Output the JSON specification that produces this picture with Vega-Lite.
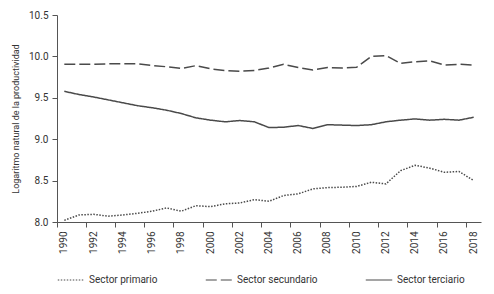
{
  "$schema": "https://vega.github.io/schema/vega-lite/v6.json",
  "width": 424,
  "height": 207,
  "autosize": {"type": "none"},
  "padding": {"left": 57, "top": 15, "right": 13, "bottom": 72},
  "background": "white",
  "config": {
    "font": "Roboto",
    "view": {"stroke": null},
    "axis": {
      "domainColor": "#555555",
      "tickColor": "#555555",
      "labelColor": "#333333",
      "titleColor": "#333333",
      "labelFontSize": 10,
      "titleFontSize": 9,
      "titleFontWeight": "normal",
      "grid": false,
      "tickSize": 5
    },
    "legend": {"labelFontSize": 10, "labelColor": "#333333"}
  },
  "data": {
    "values": [
      {"year": 1990, "sector": "Sector primario", "v": 8.02},
      {"year": 1991, "sector": "Sector primario", "v": 8.085},
      {"year": 1992, "sector": "Sector primario", "v": 8.093},
      {"year": 1993, "sector": "Sector primario", "v": 8.07},
      {"year": 1994, "sector": "Sector primario", "v": 8.085},
      {"year": 1995, "sector": "Sector primario", "v": 8.105},
      {"year": 1996, "sector": "Sector primario", "v": 8.13},
      {"year": 1997, "sector": "Sector primario", "v": 8.17},
      {"year": 1998, "sector": "Sector primario", "v": 8.13},
      {"year": 1999, "sector": "Sector primario", "v": 8.197},
      {"year": 2000, "sector": "Sector primario", "v": 8.185},
      {"year": 2001, "sector": "Sector primario", "v": 8.22},
      {"year": 2002, "sector": "Sector primario", "v": 8.23},
      {"year": 2003, "sector": "Sector primario", "v": 8.27},
      {"year": 2004, "sector": "Sector primario", "v": 8.25},
      {"year": 2005, "sector": "Sector primario", "v": 8.32},
      {"year": 2006, "sector": "Sector primario", "v": 8.34},
      {"year": 2007, "sector": "Sector primario", "v": 8.4},
      {"year": 2008, "sector": "Sector primario", "v": 8.415},
      {"year": 2009, "sector": "Sector primario", "v": 8.42},
      {"year": 2010, "sector": "Sector primario", "v": 8.43},
      {"year": 2011, "sector": "Sector primario", "v": 8.48},
      {"year": 2012, "sector": "Sector primario", "v": 8.46},
      {"year": 2013, "sector": "Sector primario", "v": 8.62},
      {"year": 2014, "sector": "Sector primario", "v": 8.685},
      {"year": 2015, "sector": "Sector primario", "v": 8.65},
      {"year": 2016, "sector": "Sector primario", "v": 8.6},
      {"year": 2017, "sector": "Sector primario", "v": 8.61},
      {"year": 2018, "sector": "Sector primario", "v": 8.5},
      {"year": 1990, "sector": "Sector secundario", "v": 9.905},
      {"year": 1991, "sector": "Sector secundario", "v": 9.905},
      {"year": 1992, "sector": "Sector secundario", "v": 9.905},
      {"year": 1993, "sector": "Sector secundario", "v": 9.91},
      {"year": 1994, "sector": "Sector secundario", "v": 9.91},
      {"year": 1995, "sector": "Sector secundario", "v": 9.91},
      {"year": 1996, "sector": "Sector secundario", "v": 9.89},
      {"year": 1997, "sector": "Sector secundario", "v": 9.875},
      {"year": 1998, "sector": "Sector secundario", "v": 9.855},
      {"year": 1999, "sector": "Sector secundario", "v": 9.888},
      {"year": 2000, "sector": "Sector secundario", "v": 9.85},
      {"year": 2001, "sector": "Sector secundario", "v": 9.83},
      {"year": 2002, "sector": "Sector secundario", "v": 9.82},
      {"year": 2003, "sector": "Sector secundario", "v": 9.83},
      {"year": 2004, "sector": "Sector secundario", "v": 9.86},
      {"year": 2005, "sector": "Sector secundario", "v": 9.905},
      {"year": 2006, "sector": "Sector secundario", "v": 9.865},
      {"year": 2007, "sector": "Sector secundario", "v": 9.835},
      {"year": 2008, "sector": "Sector secundario", "v": 9.865},
      {"year": 2009, "sector": "Sector secundario", "v": 9.86},
      {"year": 2010, "sector": "Sector secundario", "v": 9.87},
      {"year": 2011, "sector": "Sector secundario", "v": 10.0},
      {"year": 2012, "sector": "Sector secundario", "v": 10.01},
      {"year": 2013, "sector": "Sector secundario", "v": 9.915},
      {"year": 2014, "sector": "Sector secundario", "v": 9.935},
      {"year": 2015, "sector": "Sector secundario", "v": 9.945},
      {"year": 2016, "sector": "Sector secundario", "v": 9.895},
      {"year": 2017, "sector": "Sector secundario", "v": 9.905},
      {"year": 2018, "sector": "Sector secundario", "v": 9.895},
      {"year": 1990, "sector": "Sector terciario", "v": 9.578},
      {"year": 1991, "sector": "Sector terciario", "v": 9.54},
      {"year": 1992, "sector": "Sector terciario", "v": 9.51},
      {"year": 1993, "sector": "Sector terciario", "v": 9.475},
      {"year": 1994, "sector": "Sector terciario", "v": 9.44},
      {"year": 1995, "sector": "Sector terciario", "v": 9.405},
      {"year": 1996, "sector": "Sector terciario", "v": 9.38},
      {"year": 1997, "sector": "Sector terciario", "v": 9.35},
      {"year": 1998, "sector": "Sector terciario", "v": 9.31},
      {"year": 1999, "sector": "Sector terciario", "v": 9.258},
      {"year": 2000, "sector": "Sector terciario", "v": 9.23},
      {"year": 2001, "sector": "Sector terciario", "v": 9.21},
      {"year": 2002, "sector": "Sector terciario", "v": 9.225},
      {"year": 2003, "sector": "Sector terciario", "v": 9.21},
      {"year": 2004, "sector": "Sector terciario", "v": 9.14},
      {"year": 2005, "sector": "Sector terciario", "v": 9.145},
      {"year": 2006, "sector": "Sector terciario", "v": 9.165},
      {"year": 2007, "sector": "Sector terciario", "v": 9.13},
      {"year": 2008, "sector": "Sector terciario", "v": 9.175},
      {"year": 2009, "sector": "Sector terciario", "v": 9.17},
      {"year": 2010, "sector": "Sector terciario", "v": 9.165},
      {"year": 2011, "sector": "Sector terciario", "v": 9.175},
      {"year": 2012, "sector": "Sector terciario", "v": 9.21},
      {"year": 2013, "sector": "Sector terciario", "v": 9.23},
      {"year": 2014, "sector": "Sector terciario", "v": 9.245},
      {"year": 2015, "sector": "Sector terciario", "v": 9.23},
      {"year": 2016, "sector": "Sector terciario", "v": 9.24},
      {"year": 2017, "sector": "Sector terciario", "v": 9.23},
      {"year": 2018, "sector": "Sector terciario", "v": 9.265}
    ]
  },
  "mark": {"type": "line", "color": "#4a4a4a", "strokeWidth": 1.5},
  "encoding": {
    "x": {
      "field": "year",
      "type": "ordinal",
      "bandPosition": 0.5,
      "scale": {"type": "band", "paddingInner": 0, "paddingOuter": 0},
      "axis": {
        "title": null,
        "values": [1990, 1992, 1994, 1996, 1998, 2000, 2002, 2004, 2006, 2008, 2010, 2012, 2014, 2016, 2018],
        "bandPosition": 0,
        "labelAngle": -90,
        "labelAlign": "right",
        "labelBaseline": "middle",
        "labelPadding": 4
      }
    },
    "y": {
      "field": "v",
      "type": "quantitative",
      "scale": {"domain": [8, 10.5], "nice": false, "zero": false},
      "axis": {
        "title": "Logaritmo natural de la productividad",
        "values": [8, 8.5, 9, 9.5, 10, 10.5],
        "format": ".1f",
        "labelPadding": 4,
        "titlePadding": 8
      }
    },
    "strokeDash": {
      "field": "sector",
      "type": "nominal",
      "scale": {
        "domain": ["Sector primario", "Sector secundario", "Sector terciario"],
        "range": [[1.5, 1.5], [11, 4], [1, 0]]
      },
      "legend": {
        "title": null,
        "orient": "bottom",
        "direction": "horizontal",
        "symbolType": "stroke",
        "symbolSize": 700,
        "symbolStrokeColor": "#4a4a4a",
        "symbolStrokeWidth": 1.2,
        "columnPadding": 45,
        "offset": 12
      }
    }
  }
}
